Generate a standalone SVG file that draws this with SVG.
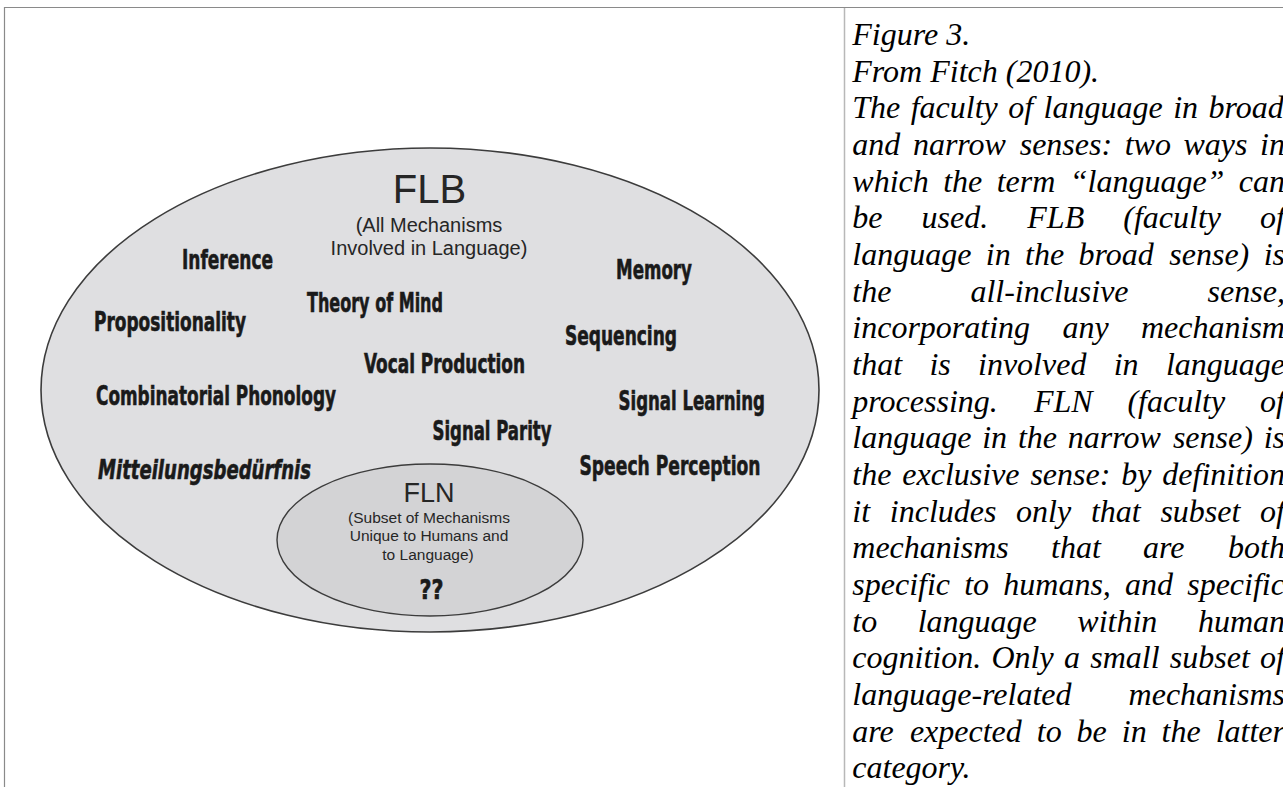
<svg xmlns="http://www.w3.org/2000/svg" width="1283" height="787" viewBox="0 0 1283 787">
<style>
.frame{stroke:#8a8a8a;stroke-width:1.2;fill:none}
.div{stroke:#b8b8b8;stroke-width:1.5;fill:none}
.outer{fill:#dfdfe1;stroke:#3c3c3c;stroke-width:1.6}
.inner{fill:#d3d3d5;stroke:#3c3c3c;stroke-width:1.4}
.t{font-family:"Liberation Sans",Arial,sans-serif;fill:#262626;text-anchor:middle}
.w{font-family:"DejaVu Sans Condensed","DejaVu Sans",sans-serif;font-weight:bold;font-size:27px;fill:#1a1a1a;stroke:#1a1a1a;stroke-width:0.6}
.cap{font-family:"Liberation Serif","Times New Roman",serif;font-style:italic;font-size:32px;fill:#000}
</style>
<rect width="1283" height="787" fill="#fff"/>
<line class="frame" x1="4" y1="7.5" x2="1283" y2="7.5"/>
<line class="frame" x1="4.5" y1="7" x2="4.5" y2="787"/>
<line class="div" x1="844.5" y1="8" x2="844.5" y2="787"/>

<g id="flb">
<ellipse class="outer" cx="430" cy="390" rx="389" ry="242"/>
<text class="t" x="429.5" y="203" font-size="40">FLB</text>
<text class="t" x="429" y="231.5" font-size="20">(All Mechanisms</text>
<text class="t" x="429" y="255" font-size="20">Involved in Language)</text>
</g>

<g id="w-inference"><text class="w" x="182" y="269" textLength="91" lengthAdjust="spacingAndGlyphs">Inference</text></g>
<g id="w-theory"><text class="w" x="307" y="311.5" textLength="136" lengthAdjust="spacingAndGlyphs">Theory of Mind</text></g>
<g id="w-prop"><text class="w" x="94" y="330.5" textLength="152" lengthAdjust="spacingAndGlyphs">Propositionality</text></g>
<g id="w-vocal"><text class="w" x="364" y="373" textLength="161" lengthAdjust="spacingAndGlyphs">Vocal Production</text></g>
<g id="w-comb"><text class="w" x="96" y="405" textLength="240" lengthAdjust="spacingAndGlyphs">Combinatorial Phonology</text></g>
<g id="w-parity"><text class="w" x="432.5" y="440" textLength="119" lengthAdjust="spacingAndGlyphs">Signal Parity</text></g>
<g id="w-mitt"><text class="w" x="98" y="478.5" textLength="213" lengthAdjust="spacingAndGlyphs" font-style="italic">Mitteilungsbedürfnis</text></g>
<g id="w-memory"><text class="w" x="616" y="278.5" textLength="76" lengthAdjust="spacingAndGlyphs">Memory</text></g>
<g id="w-seq"><text class="w" x="565" y="345" textLength="112" lengthAdjust="spacingAndGlyphs">Sequencing</text></g>
<g id="w-siglearn"><text class="w" x="618.5" y="410" textLength="146.5" lengthAdjust="spacingAndGlyphs">Signal Learning</text></g>
<g id="w-speech"><text class="w" x="579.5" y="475" textLength="181" lengthAdjust="spacingAndGlyphs">Speech Perception</text></g>

<g id="fln">
<ellipse class="inner" cx="430" cy="540" rx="153" ry="76"/>
<text class="t" x="429" y="501.5" font-size="27">FLN</text>
<text class="t" x="429" y="522.5" font-size="15.5">(Subset of Mechanisms</text>
<text class="t" x="429" y="541" font-size="15.5">Unique to Humans and</text>
<text class="t" x="428" y="560" font-size="15.5">to Language)</text>
<text class="w" x="419.5" y="598.5" textLength="24" lengthAdjust="spacingAndGlyphs">??</text>
</g>

<g id="caption" class="cap">
<text x="852.3" y="45">Figure 3.</text>
<text x="852.3" y="81.7">From Fitch (2010).</text>
<text y="118.3"><tspan x="852.3">The</tspan><tspan x="910.7">faculty</tspan><tspan x="1008.3">of</tspan><tspan x="1043.6">language</tspan><tspan x="1173.2">in</tspan><tspan x="1208.5">broad</tspan></text>
<text y="155"><tspan x="852.3">and</tspan><tspan x="912.9">narrow</tspan><tspan x="1019.7">senses:</tspan><tspan x="1124.7">two</tspan><tspan x="1183.5">ways</tspan><tspan x="1260.1">in</tspan></text>
<text y="191.7"><tspan x="852.3">which</tspan><tspan x="943.2">the</tspan><tspan x="996.7">term</tspan><tspan x="1069.7">“language”</tspan><tspan x="1238.8">can</tspan></text>
<text y="228.3"><tspan x="852.3">be</tspan><tspan x="921.6">used.</tspan><tspan x="1027.3">FLB</tspan><tspan x="1123.3">(faculty</tspan><tspan x="1260.1">of</tspan></text>
<text y="265"><tspan x="852.3">language</tspan><tspan x="985.8">in</tspan><tspan x="1025">the</tspan><tspan x="1078.5">broad</tspan><tspan x="1169.3">sense)</tspan><tspan x="1263.7">is</tspan></text>
<text y="301.7"><tspan x="852.3">the</tspan><tspan x="970.4">all-inclusive</tspan><tspan x="1207.6">sense,</tspan></text>
<text y="338.3"><tspan x="852.3">incorporating</tspan><tspan x="1062.5">any</tspan><tspan x="1141">mechanism</tspan></text>
<text y="375"><tspan x="852.3">that</tspan><tspan x="929.4">is</tspan><tspan x="978">involved</tspan><tspan x="1113.7">in</tspan><tspan x="1165.9">language</tspan></text>
<text y="411.7"><tspan x="852.3">processing.</tspan><tspan x="1033.9">FLN</tspan><tspan x="1127.4">(faculty</tspan><tspan x="1260.1">of</tspan></text>
<text y="448.3"><tspan x="852.3">language</tspan><tspan x="982.2">in</tspan><tspan x="1017.9">the</tspan><tspan x="1067.8">narrow</tspan><tspan x="1172.9">sense)</tspan><tspan x="1263.7">is</tspan></text>
<text y="485"><tspan x="852.3">the</tspan><tspan x="902.3">exclusive</tspan><tspan x="1030.4">sense:</tspan><tspan x="1121.2">by</tspan><tspan x="1162.3">definition</tspan></text>
<text y="521.7"><tspan x="852.3">it</tspan><tspan x="889.8">includes</tspan><tspan x="1016.1">only</tspan><tspan x="1090.9">that</tspan><tspan x="1160.4">subset</tspan><tspan x="1260.1">of</tspan></text>
<text y="558.3"><tspan x="852.3">mechanisms</tspan><tspan x="1051">that</tspan><tspan x="1143.1">are</tspan><tspan x="1228.1">both</tspan></text>
<text y="595"><tspan x="852.3">specific</tspan><tspan x="964.2">to</tspan><tspan x="1003.3">humans,</tspan><tspan x="1125.1">and</tspan><tspan x="1187.2">specific</tspan></text>
<text y="631.7"><tspan x="852.3">to</tspan><tspan x="917.7">language</tspan><tspan x="1077.3">within</tspan><tspan x="1197.9">human</tspan></text>
<text y="668.3"><tspan x="852.3">cognition.</tspan><tspan x="991.5">Only</tspan><tspan x="1064">a</tspan><tspan x="1090.2">small</tspan><tspan x="1169.8">subset</tspan><tspan x="1260.1">of</tspan></text>
<text y="705"><tspan x="852.3">language-related</tspan><tspan x="1128.6">mechanisms</tspan></text>
<text y="741.7"><tspan x="852.3">are</tspan><tspan x="909.9">expected</tspan><tspan x="1036.8">to</tspan><tspan x="1076.6">be</tspan><tspan x="1121.8">in</tspan><tspan x="1161.6">the</tspan><tspan x="1215.7">latter</tspan></text>
<text x="852.3" y="778.3">category.</text>
</g>
</svg>
